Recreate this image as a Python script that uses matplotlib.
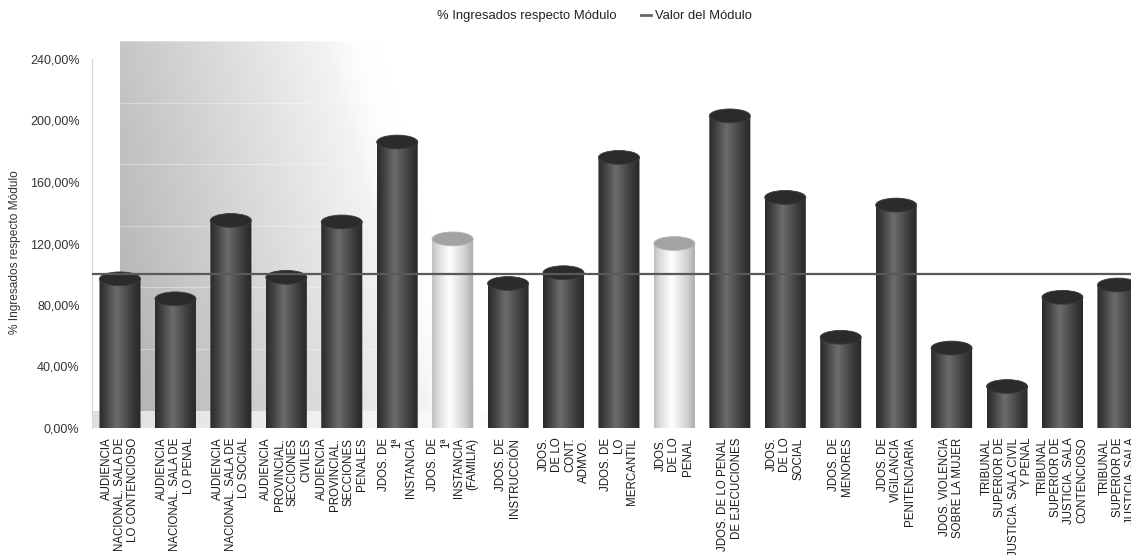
import numpy as np
import matplotlib
matplotlib.use('Agg')
import matplotlib.pyplot as plt
from matplotlib.patches import Ellipse, Patch, PathPatch
from matplotlib.path import Path
from matplotlib.lines import Line2D
from matplotlib.colors import LinearSegmentedColormap

plt.rcParams['font.family'] = ['Liberation Sans', 'DejaVu Sans']

categories = [
    "AUDIENCIA\nNACIONAL. SALA DE\nLO CONTENCIOSO",
    "AUDIENCIA\nNACIONAL. SALA DE\nLO PENAL",
    "AUDIENCIA\nNACIONAL. SALA DE\nLO SOCIAL",
    "AUDIENCIA\nPROVINCIAL.\nSECCIONES\nCIVILES",
    "AUDIENCIA\nPROVINCIAL.\nSECCIONES\nPENALES",
    "JDOS. DE\n1ª\nINSTANCIA",
    "JDOS. DE\n1ª\nINSTANCIA\n(FAMILIA)",
    "JDOS. DE\nINSTRUCCIÓN",
    "JDOS.\nDE LO\nCONT.\nADMVO.",
    "JDOS. DE\nLO\nMERCANTIL",
    "JDOS.\nDE LO\nPENAL",
    "JDOS. DE LO PENAL\nDE EJECUCIONES",
    "JDOS.\nDE LO\nSOCIAL",
    "JDOS. DE\nMENORES",
    "JDOS. DE\nVIGILANCIA\nPENITENCIARIA",
    "JDOS. VIOLENCIA\nSOBRE LA MUJER",
    "TRIBUNAL\nSUPERIOR DE\nJUSTICIA. SALA CIVIL\nY PENAL",
    "TRIBUNAL\nSUPERIOR DE\nJUSTICIA. SALA\nCONTENCIOSO",
    "TRIBUNAL\nSUPERIOR DE\nJUSTICIA. SALA",
]
values = [97, 84, 135, 98, 134, 186, 123, 94, 101, 176, 120, 203, 150, 59, 145, 52, 27, 85, 93]
highlighted = [False, False, False, False, False, False, True, False, False, False,
               True, False, False, False, False, False, False, False, False]
modulo = 100
y_ticks = [0, 40, 80, 120, 160, 200, 240]
y_tick_labels = ['0,00%', '40,00%', '80,00%', '120,00%', '160,00%', '200,00%', '240,00%']
series_label = '% Ingresados respecto Módulo'
line_label = 'Valor del Módulo'
y_label = '% Ingresados respecto Módulo'

W, H = 1131, 555
fig = plt.figure(figsize=(W / 100, H / 100), dpi=100)
ax_left_px, ax_bottom_px, ax_top_px = 92, 428, 40.5
ax = fig.add_axes([ax_left_px / W, 1 - ax_bottom_px / H, 1 - ax_left_px / W,
                   (ax_bottom_px - ax_top_px) / H])

spacing_px = 55.44
first_px = 120
xmin = -(first_px - ax_left_px) / spacing_px
xmax = (W - first_px) / spacing_px
px_per_unit = 1.5375
ymax = (ax_bottom_px - ax_top_px) / px_per_unit

# Background wall (diagonal gradient, fading to white toward upper right)
floor_h = (ax_bottom_px - 411) / px_per_unit
nx, ny = 500, 250
xs = np.linspace(0, xmax, nx)
ys = np.linspace(floor_h, ymax, ny)
PX = first_px + xs[None, :] * spacing_px
PY = ax_bottom_px - ys[:, None] * px_per_unit
t = np.clip(((PX - 120) + 0.275 * (411 - PY)) / 360, 0, 1)
t = np.where(t < 0.85, t, 0.85 + (1 - (1 - (t - 0.85) / 0.15) ** 2) * 0.15)
L = 0.69 + 0.31 * t
wall = np.dstack([L, L, L])
ax.imshow(wall, extent=[0, xmax, floor_h, ymax], origin='lower', aspect='auto',
          zorder=0, interpolation='bilinear')
# floor
xs2 = np.linspace(xmin, xmax, nx)
PX2 = first_px + xs2 * spacing_px
Lf = 0.875 + 0.125 * np.clip((PX2 - 92) / 420, 0, 1)
floor = np.dstack([np.tile(Lf, (2, 1))] * 3)
ax.imshow(floor, extent=[xmin, xmax, 0, floor_h], origin='lower', aspect='auto',
          zorder=0, interpolation='bilinear')
# faint wall gridlines
for yt in y_ticks[1:]:
    ax.hlines(yt + 11.5, 0, xmax, color='white', alpha=0.35, lw=0.8, zorder=1)

# Bars as cylinders
x = np.arange(len(values))
bw = 0.74
eh = 9.0
dark_cmap = LinearSegmentedColormap.from_list(
    'dark', [(0, '#2a2a2a'), (0.12, '#3a3a3a'), (0.42, '#6c6c6c'), (0.8, '#3a3a3a'), (1, '#262626')])
light_cmap = LinearSegmentedColormap.from_list(
    'light', [(0, '#bdbdbd'), (0.12, '#d8d8d8'), (0.42, '#ffffff'), (0.8, '#d0d0d0'), (1, '#a8a8a8')])
grad = np.linspace(0, 1, 256)[None, :]

bars = ax.bar(x, values, width=bw, color='#404040', label=series_label, zorder=2,
              linewidth=0)
for b, hl in zip(bars, highlighted):
    x0 = b.get_x()
    w = b.get_width()
    v = b.get_height()
    cx = x0 + w / 2
    b.set_visible(False)
    th = np.linspace(np.pi, 2 * np.pi, 40)
    pts = [(cx + w / 2 * np.cos(a), eh / 2 * np.sin(a)) for a in th]
    pts += [(x0 + w, v), (x0, v), pts[0]]
    codes = [Path.MOVETO] + [Path.LINETO] * (len(pts) - 2) + [Path.CLOSEPOLY]
    clip = PathPatch(Path(pts, codes), transform=ax.transData, facecolor='none',
                     edgecolor='none')
    ax.add_patch(clip)
    im = ax.imshow(grad, extent=[x0, x0 + w, -eh / 2, v], aspect='auto',
                   cmap=light_cmap if hl else dark_cmap, zorder=3,
                   interpolation='bilinear')
    im.set_clip_path(clip)
    cap = Ellipse((cx, v), w, eh, facecolor='#a3a3a3' if hl else '#2b2b2b',
                  edgecolor='#b5b5b5' if hl else '#3c3c3c', lw=0.6, zorder=4)
    ax.add_patch(cap)

ax.axhline(modulo, color='#595959', lw=1.6, zorder=5, label=line_label)

ax.set_xlim(xmin, xmax)
ax.set_ylim(0, ymax)
ax.set_yticks(y_ticks)
ax.set_yticklabels(y_tick_labels, fontsize=9, color='#333333')
ax.set_xticks(x)
ax.set_xticklabels(categories, rotation=90, fontsize=8.3, ha='center', va='top',
                   multialignment='right', linespacing=1.15, color='#1a1a1a')
ax.tick_params(axis='both', length=0)
ax.tick_params(axis='y', pad=9)
ax.tick_params(axis='x', pad=7)
for s in ['top', 'right', 'bottom']:
    ax.spines[s].set_visible(False)
ax.spines['left'].set_color('#d6d6d6')
ax.spines['left'].set_bounds(0, 240)

fig.text(15 / W, 1 - 252 / H, y_label, rotation=90, fontsize=8.6, color='#333333',
         ha='center', va='center')

handles = [Patch(facecolor='none', edgecolor='none'),
           Line2D([], [], color='#666666', lw=2)]
fig.legend(handles, [series_label, line_label], loc='center',
           bbox_to_anchor=(0.5197, 1 - 16 / H), ncol=2, frameon=False, fontsize=9.4,
           handlelength=0.7, handletextpad=0.3, columnspacing=1.9, labelcolor='#222222')

fig.savefig('out.png', dpi=100)
